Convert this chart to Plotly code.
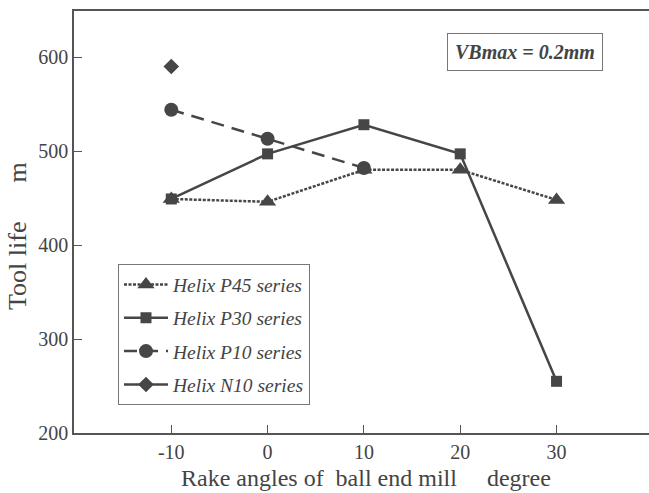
import plotly.graph_objects as go

rake = [-10, 0, 10, 20, 30]
p45 = [449, 446, 480, 480, 448]
p30 = [449, 497, 528, 497, 255]
p10_x = [-10, 0, 10]
p10 = [544, 513, 482]
n10_x = [-10]
n10 = [590]

xticks = [-10, 0, 10, 20, 30]
xticktext = ["-10", "0", "10", "20", "30"]
yticks = [200, 300, 400, 500, 600]
yticktext = ["200", "300", "400", "500", "600"]

C = "#464646"
FONT = "Liberation Serif"

fig = go.Figure()
fig.add_trace(go.Scatter(x=rake, y=p45, name="<i>Helix P45 series</i>", mode="lines+markers",
                         line=dict(color=C, width=2.5, dash="3px,1.5px"),
                         marker=dict(symbol="triangle-up", size=15, color=C), legendgroup="a"))
fig.add_trace(go.Scatter(x=rake, y=p30, name="<i>Helix P30 series</i>", mode="lines+markers",
                         line=dict(color=C, width=2.5),
                         marker=dict(symbol="square", size=11, color=C), legendgroup="b"))
fig.add_trace(go.Scatter(x=p10_x, y=p10, name="<i>Helix P10 series</i>", mode="lines+markers",
                         line=dict(color=C, width=2.5, dash="13px,8px"),
                         marker=dict(symbol="circle", size=14, color=C), legendgroup="c"))
fig.add_trace(go.Scatter(x=n10_x, y=n10, name="<i>Helix N10 series</i>", mode="lines+markers",
                         line=dict(color=C, width=2.5),
                         marker=dict(symbol="diamond", size=12, color=C), legendgroup="d"))

sp = "&nbsp;"
fig.update_layout(
    width=649, height=493,
    margin=dict(l=74, r=0, t=11, b=60),
    paper_bgcolor="white", plot_bgcolor="white",
    font=dict(family=FONT, size=20, color="#444"),
    showlegend=True,
    legend=dict(x=0.0765, y=0.40, xanchor="left", yanchor="top",
                bordercolor="#777", borderwidth=1, bgcolor="white",
                font=dict(family=FONT, size=19.5, color="#444"),
                traceorder="grouped", tracegroupgap=5, itemwidth=44),
    xaxis=dict(range=[-20.1, 39.6], tickvals=xticks, ticktext=xticktext,
               ticks="inside", ticklen=8,
               tickcolor="#555", showline=True, linecolor="#555", linewidth=1.5,
               mirror=True, showgrid=False, zeroline=False,
               tickfont=dict(family=FONT, size=20, color="#444")),
    yaxis=dict(range=[200, 649], tickvals=yticks, ticktext=yticktext,
               ticks="inside", ticklen=8,
               tickcolor="#555", showline=True, linecolor="#555", linewidth=1.5,
               showgrid=False, zeroline=False,
               tickfont=dict(family=FONT, size=20, color="#444")),
    annotations=[
        dict(text="Rake angles of" + sp * 2 + "ball end mill" + sp * 5 + "degree",
             xref="paper", yref="paper", x=(366 - 74) / 575, y=-(478 - 433) / 422,
             xanchor="center", yanchor="middle", showarrow=False,
             font=dict(family=FONT, size=24, color="#444")),
        dict(text="Tool life" + sp * 6 + "m", textangle=-90,
             xref="paper", yref="paper", x=-(74 - 17) / 575, y=(433 - 236) / 422,
             xanchor="center", yanchor="middle", showarrow=False,
             font=dict(family=FONT, size=26, color="#444")),
        dict(text="<b><i>VBmax = 0.2mm</i></b>",
             xref="paper", yref="paper", x=(524.5 - 74) / 575, y=(433 - 52) / 422,
             xanchor="center", yanchor="middle", showarrow=False,
             bordercolor="#777", borderwidth=1, borderpad=7, bgcolor="white",
             font=dict(family=FONT, size=20, color="#444")),
    ],
)

fig.write_html("out.html", config={"displayModeBar": False},
               post_script="document.body.style.margin='0';document.body.style.overflow='hidden';")
